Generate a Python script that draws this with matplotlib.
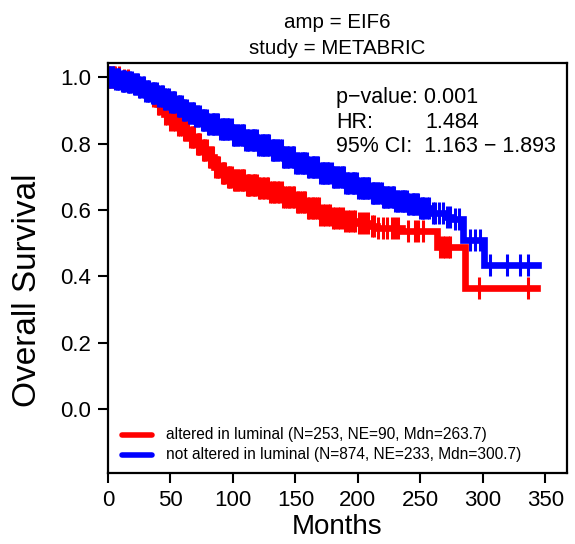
import numpy as np
import matplotlib
matplotlib.use("Agg")
from matplotlib import pyplot as plt
from matplotlib.lines import Line2D

plt.rcParams['font.family'] = ['Liberation Sans', 'DejaVu Sans']

# Kaplan-Meier step points (months, survival)
red_t = [0, 10, 18, 25, 30, 35, 40, 45, 50, 55, 60, 65, 70, 75, 80, 85, 90, 95,
         100, 110, 120, 130, 140, 150, 160, 170, 180, 190, 200, 210, 215, 235,
         263.7, 286, 343]
red_s = [1.0, 0.992, 0.984, 0.972, 0.96, 0.945, 0.92, 0.89, 0.87, 0.855, 0.84,
         0.82, 0.80, 0.78, 0.76, 0.73, 0.71, 0.70, 0.69, 0.675, 0.665, 0.655,
         0.64, 0.625, 0.605, 0.585, 0.575, 0.568, 0.562, 0.552, 0.545, 0.535,
         0.487, 0.366, 0.366]

blue_t = [0, 5, 10, 15, 20, 25, 30, 35, 40, 45, 50, 55, 60, 65, 70, 75, 80, 90,
          100, 110, 120, 130, 140, 150, 160, 170, 180, 190, 200, 210, 220, 230,
          240, 250, 260, 270, 276, 284, 300.7, 344]
blue_s = [1.0, 0.995, 0.99, 0.985, 0.98, 0.97, 0.96, 0.952, 0.944, 0.935, 0.925,
          0.913, 0.902, 0.892, 0.882, 0.87, 0.86, 0.843, 0.826, 0.81, 0.795,
          0.78, 0.76, 0.742, 0.728, 0.712, 0.698, 0.68, 0.665, 0.652, 0.64,
          0.628, 0.618, 0.605, 0.59, 0.578, 0.572, 0.51, 0.434, 0.434]

# censored times
red_cens = [1, 2, 4, 5, 6, 9, 13, 16, 36, 38, 40, 41, 43, 44, 46, 47, 50, 52, 54,
            56, 58, 59, 61, 62, 63, 64, 66, 67, 68, 69, 71, 72, 73, 74, 76, 77,
            78, 79, 81, 82, 83, 84, 86, 87, 88, 89, 91, 92, 93, 94, 96, 97, 98,
            99, 101, 102, 103, 104, 106, 107, 108, 109, 111, 112, 113, 114, 116,
            117, 118, 119, 121, 122, 124, 125, 127, 128, 130, 131, 133, 134, 136,
            137, 139, 140, 142, 143, 145, 146, 148, 149, 151, 152, 154, 155, 157,
            158, 160, 161, 163, 164, 166, 167, 169, 170, 172, 174, 176, 178, 180,
            182, 184, 186, 188, 190, 192, 194, 196, 198, 201, 203, 206, 208, 211,
            213, 216, 220, 223, 227, 230, 232, 240, 246, 248, 252, 266, 268, 270,
            272, 274, 297, 336]
blue_cens = [1, 2, 3, 4, 6, 7, 8, 9, 11, 12, 13, 14, 16, 17, 18, 19, 21, 22, 23,
             24, 25, 26, 28, 29, 30, 31, 32, 33, 35, 36, 37, 38, 39, 40, 42, 43,
             44, 45, 46, 47, 49, 50, 51, 52, 53, 54, 56, 57, 58, 59, 60, 61, 62,
             63, 65, 66, 67, 68, 69, 70, 71, 72, 74, 75, 76, 77, 78, 79, 80, 81,
             83, 84, 85, 86, 87, 88, 90, 91, 92, 93, 94, 95, 96, 97, 99, 100, 101,
             102, 103, 104, 106, 107, 108, 109, 110, 111, 112, 113, 115, 116, 117,
             118, 119, 120, 122, 123, 124, 125, 126, 127, 128, 129, 131, 132, 133,
             134, 135, 136, 138, 139, 140, 141, 142, 143, 144, 145, 147, 148, 149,
             150, 151, 152, 154, 155, 156, 157, 158, 159, 160, 161, 163, 164, 165,
             166, 167, 168, 170, 171, 172, 173, 174, 175, 176, 177, 179, 180, 181,
             182, 183, 184, 186, 187, 188, 189, 190, 191, 192, 193, 195, 196, 197,
             198, 199, 200, 202, 203, 204, 205, 206, 207, 208, 209, 211, 212, 213,
             214, 215, 216, 218, 219, 220, 221, 222, 223, 224, 225, 227, 228, 229,
             230, 231, 232, 234, 235, 236, 237, 238, 239, 240, 241, 243, 244, 245,
             246, 247, 248, 250, 251, 252, 253, 255, 257, 260, 262, 265, 268, 271,
             274, 278, 281, 290, 294, 298, 305.7, 319, 330, 336.5]

labels = ["altered in luminal (N=253, NE=90, Mdn=263.7)",
          "not altered in luminal (N=874, NE=233, Mdn=300.7)"]
stats = ["p\u2212value: 0.001", "HR:", "1.484", "95% CI:  1.163 \u2212 1.893"]


def step_value(t, s, x):
    i = np.searchsorted(t, x, side='right') - 1
    return np.asarray(s)[i]


W, H = 575, 544
fig = plt.figure(figsize=(W / 100, H / 100), dpi=100)
ax = fig.add_axes([108 / W, 1 - 473.3 / H, 459 / W, 410.3 / H])

for t, s, c, cens in [(red_t, red_s, 'red', red_cens), (blue_t, blue_s, 'blue', blue_cens)]:
    ax.plot(t, s, drawstyle='steps-post', color=c, lw=4.8, solid_joinstyle='miter')
    ax.plot(cens, step_value(t, s, cens), ls='none', marker='|', color=c,
            markersize=16, markeredgewidth=2.2)

ax.set_xlim(0, 367.4)
ax.set_ylim(-0.194, 1.043)
ax.set_xticks(np.arange(0, 351, 50))
ax.set_yticks([0.0, 0.2, 0.4, 0.6, 0.8, 1.0])
ax.set_yticklabels(["0.0", "0.2", "0.4", "0.6", "0.8", "1.0"])
ax.tick_params(labelsize=16, length=7, width=1.5, pad=5)
for sp in ax.spines.values():
    sp.set_linewidth(1.6)

fig.text(337.5 / W, 1 - 23 / H, "amp = EIF6", ha='center', va='center', fontsize=14.8)
fig.text(337.5 / W, 1 - 49 / H, "study = METABRIC", ha='center', va='center', fontsize=14.8)
fig.text(337.5 / W, 1 - 527 / H, "Months", ha='center', va='center', fontsize=20)
fig.text(28 / W, 1 - 290 / H, "Overall Survival", ha='center', va='center',
         rotation=90, fontsize=24)

fig.text(336 / W, 1 - 97 / H, stats[0], va='center', fontsize=15.5)
fig.text(336 / W, 1 - 122 / H, stats[1], va='center', fontsize=15.5)
fig.text(425 / W, 1 - 122 / H, stats[2], va='center', fontsize=15.5)
fig.text(336 / W, 1 - 147 / H, stats[3], va='center', fontsize=15.5)

for y, c, lab in [(435, 'red', labels[0]), (455, 'blue', labels[1])]:
    fig.add_artist(Line2D([122 / W, 152 / W], [1 - y / H, 1 - y / H], color=c,
                          lw=4, solid_capstyle='round'))
    fig.text(166 / W, 1 - y / H, lab, va='center', fontsize=11.2)

fig.savefig("out.png", dpi=100)
